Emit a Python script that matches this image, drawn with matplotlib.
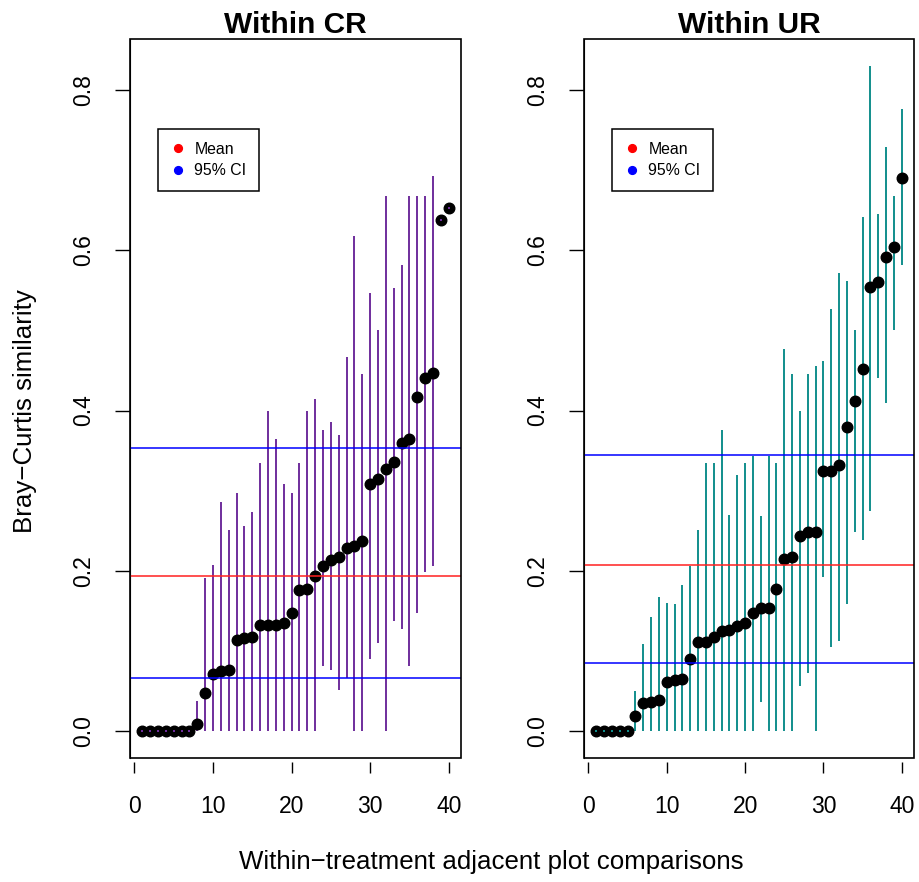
import matplotlib
matplotlib.use("Agg")
import matplotlib.pyplot as plt
from matplotlib.lines import Line2D
from matplotlib.patches import Rectangle
import numpy as np

plt.rcParams['font.family'] = ['Liberation Sans', 'DejaVu Sans']

comparison = np.arange(1, 41)

# Within CR: sorted mean similarity with 95% CI per adjacent pair
cr_mean = [0, 0, 0, 0, 0, 0, 0, 0.009, 0.048, 0.071, 0.075, 0.077, 0.114, 0.117,
           0.118, 0.132, 0.132, 0.133, 0.135, 0.147, 0.176, 0.177, 0.194, 0.206,
           0.214, 0.218, 0.229, 0.231, 0.237, 0.309, 0.315, 0.327, 0.336, 0.360,
           0.364, 0.417, 0.441, 0.447, 0.637, 0.652]
cr_lo = [0, 0, 0, 0, 0, 0, 0, 0, 0, 0, 0, 0, 0, 0, 0, 0, 0, 0, 0, 0, 0, 0, 0,
         0.082, 0.076, 0.051, 0.066, 0, 0, 0.090, 0.110, 0, 0.137, 0.128, 0.082,
         0.148, 0.199, 0.206, 0.637, 0.652]
cr_hi = [0, 0, 0, 0, 0, 0, 0, 0.038, 0.191, 0.207, 0.286, 0.251, 0.297, 0.256,
         0.273, 0.334, 0.400, 0.364, 0.308, 0.297, 0.334, 0.400, 0.415, 0.376,
         0.386, 0.369, 0.467, 0.617, 0.446, 0.547, 0.501, 0.668, 0.553, 0.582,
         0.668, 0.668, 0.668, 0.692, 0.637, 0.652]
cr_lines = {"mean": 0.194, "ci": (0.0665, 0.353)}

# Within UR
ur_mean = [0, 0, 0, 0, 0, 0.019, 0.035, 0.036, 0.039, 0.062, 0.064, 0.065, 0.090,
           0.111, 0.111, 0.118, 0.125, 0.126, 0.131, 0.135, 0.148, 0.154, 0.154,
           0.178, 0.215, 0.218, 0.243, 0.248, 0.248, 0.324, 0.324, 0.332, 0.380,
           0.412, 0.452, 0.554, 0.560, 0.592, 0.604, 0.690]
ur_lo = [0, 0, 0, 0, 0, 0, 0, 0, 0, 0, 0, 0, 0, 0, 0, 0, 0, 0, 0, 0, 0, 0.037,
         0, 0, 0, 0, 0.057, 0.073, 0, 0.192, 0.105, 0.113, 0.159, 0.249, 0.239,
         0.275, 0.441, 0.409, 0.501, 0.581]
ur_hi = [0, 0, 0, 0, 0, 0.050, 0.109, 0.143, 0.167, 0.160, 0.159, 0.182, 0.206,
         0.251, 0.334, 0.334, 0.376, 0.270, 0.320, 0.334, 0.343, 0.269, 0.343,
         0.334, 0.477, 0.445, 0.400, 0.445, 0.455, 0.462, 0.527, 0.572, 0.561,
         0.501, 0.641, 0.829, 0.645, 0.728, 0.668, 0.776]
ur_lines = {"mean": 0.207, "ci": (0.0856, 0.345)}

W, H = 919, 882
fig = plt.figure(figsize=(W / 100, H / 100), dpi=100)
ax1 = fig.add_axes([130 / W, 1 - 758 / H, 331 / W, 719 / H])
ax2 = fig.add_axes([584 / W, 1 - 758 / H, 330 / W, 719 / H])

ymax = 0.83


def panel(ax, title, mean, lo, hi, lines, bar_col):
    mean = np.array(mean)
    lo = np.array(lo)
    hi = np.array(hi)
    ax.vlines(comparison, lo, hi, color=bar_col, lw=1.4, zorder=2)
    ax.plot(comparison, mean, 'o', color='black', ms=7.6, zorder=3)
    flat = lo == hi
    ax.plot(comparison[flat], mean[flat], 's', color=bar_col, ms=1.6, mew=0, zorder=4)
    ax.axhline(lines["mean"], color='#ff2020', lw=1.1, zorder=5)
    for v in lines["ci"]:
        ax.axhline(v, color='#0000ff', lw=1.1, zorder=5)

    ax.set_xlim(1 - 0.04 * 39, 40 + 0.04 * 39)
    ax.set_ylim(-0.04 * ymax, ymax * 1.04)
    ax.set_xticks([0, 10, 20, 30, 40])
    ax.set_yticks([0.0, 0.2, 0.4, 0.6, 0.8])
    ax.set_yticklabels(["0.0", "0.2", "0.4", "0.6", "0.8"], rotation=90, va='center')
    ax.tick_params(axis='y', length=10.8, width=1, pad=14.4, labelsize=16.5)
    ax.tick_params(axis='x', length=8.2, width=1, pad=15.5, labelsize=16.5)

    # box drawn separately, x ticks sit a little below it
    for s in ax.spines.values():
        s.set_visible(False)
    ax.spines['left'].set_visible(True)
    ax.spines['bottom'].set_position(('outward', 3.2))
    ax.add_patch(Rectangle((0, 0), 1, 1, transform=ax.transAxes, fill=False,
                           lw=1.2, color='black', clip_on=False, zorder=6))
    ax.set_title(title, fontsize=21.5, fontweight='bold', pad=4)

    handles = [Line2D([], [], ls='none', marker='o', color='red', ms=5.6),
               Line2D([], [], ls='none', marker='o', color='blue', ms=5.6)]
    leg = ax.legend(handles, ["Mean", "95% CI"], loc='upper left',
                    bbox_to_anchor=(0.0846, 0.875), fontsize=11.4, frameon=True,
                    fancybox=False, edgecolor='black', framealpha=1,
                    handlelength=0.9, handletextpad=0.6, borderpad=0.8,
                    labelspacing=0.42, borderaxespad=0)
    leg.get_frame().set_linewidth(1.1)
    leg.set_zorder(10)


panel(ax1, "Within CR", cr_mean, cr_lo, cr_hi, cr_lines, '#6f2d9c')
panel(ax2, "Within UR", ur_mean, ur_lo, ur_hi, ur_lines, '#118e8c')

fig.text(25 / W, 1 - 411 / H, "Bray\u2212Curtis similarity", rotation=90,
         ha='center', va='center', fontsize=18.6)
fig.text(491 / W, 1 - 862 / H, "Within\u2212treatment adjacent plot comparisons",
         ha='center', va='center', fontsize=18.6)

fig.savefig("out.png", dpi=100)
